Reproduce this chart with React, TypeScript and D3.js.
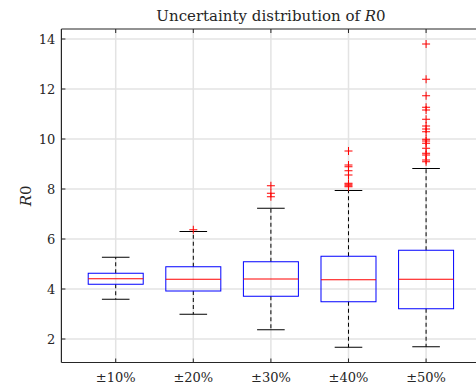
import * as d3 from 'd3'

const categories = ['±10%', '±20%', '±30%', '±40%', '±50%']
const q1 = [4.19, 3.92, 3.71, 3.49, 3.21]
const median = [4.41, 4.39, 4.4, 4.37, 4.39]
const q3 = [4.63, 4.89, 5.09, 5.31, 5.55]
const whiskerLow = [3.59, 2.99, 2.37, 1.67, 1.69]
const whiskerHigh = [5.27, 6.3, 7.23, 7.94, 8.82]
const outliers: number[][] = [
  [],
  [6.37],
  [8.13, 7.83, 7.69],
  [9.52, 8.96, 8.89, 8.73, 8.56, 8.23, 8.19, 8.13, 8.09],
  [
    13.8, 12.39, 11.73, 11.27, 11.16, 10.79, 10.52, 10.4, 10.29, 9.99, 9.92,
    9.83, 9.63, 9.43, 9.36, 9.16, 9.09,
  ],
]
const yTicks = [2, 4, 6, 8, 10, 12, 14]

const width = 476
const height = 389
const font = "'DejaVu Serif', serif"

export default function App() {
  const x = d3.scaleLinear([0.3, 5.7], [61.4, 480.4])
  const y = d3.scaleLinear([1.06, 14.4], [362.5, 29])
  const boxHalf = 27.5
  const capHalf = 13.8
  const left = x(0.3)
  const right = x(5.7)
  const top = y(14.4)
  const bottom = y(1.06)
  const axisColor = '#262626'
  const tickStyle = { fontFamily: font, fontSize: '13px' }
  const titleStyle = { fontFamily: font, fontSize: '15px' }

  return (
    <svg
      width={width}
      height={height}
      style={{ position: 'absolute', left: 0, top: 0, background: 'white' }}
    >
      <rect x={0} y={0} width={width} height={height} fill="white" />
      {/* grid */}
      {yTicks.map((t) => (
        <line
          key={'gy' + t}
          x1={left}
          x2={right}
          y1={y(t)}
          y2={y(t)}
          stroke="#e3e3e3"
          strokeWidth={1.5}
        />
      ))}
      {categories.map((_, i) => (
        <line
          key={'gx' + i}
          x1={x(i + 1)}
          x2={x(i + 1)}
          y1={top}
          y2={bottom}
          stroke="#e3e3e3"
          strokeWidth={1.5}
        />
      ))}
      {/* boxes */}
      {categories.map((_, i) => {
        const cx = x(i + 1)
        return (
          <g key={'b' + i}>
            <line
              x1={cx}
              x2={cx}
              y1={y(q3[i])}
              y2={y(whiskerHigh[i])}
              stroke="black"
              strokeWidth={1}
              strokeDasharray="4,3"
            />
            <line
              x1={cx}
              x2={cx}
              y1={y(q1[i])}
              y2={y(whiskerLow[i])}
              stroke="black"
              strokeWidth={1}
              strokeDasharray="4,3"
            />
            <line
              x1={cx - capHalf}
              x2={cx + capHalf}
              y1={y(whiskerHigh[i])}
              y2={y(whiskerHigh[i])}
              stroke="black"
              strokeWidth={1}
            />
            <line
              x1={cx - capHalf}
              x2={cx + capHalf}
              y1={y(whiskerLow[i])}
              y2={y(whiskerLow[i])}
              stroke="black"
              strokeWidth={1}
            />
            <rect
              x={cx - boxHalf}
              y={y(q3[i])}
              width={boxHalf * 2}
              height={y(q1[i]) - y(q3[i])}
              fill="none"
              stroke="#0000ff"
              strokeWidth={1}
            />
            <line
              x1={cx - boxHalf}
              x2={cx + boxHalf}
              y1={y(median[i])}
              y2={y(median[i])}
              stroke="#ff0000"
              strokeWidth={1}
            />
            {outliers[i].map((o, j) => (
              <path
                key={j}
                d={`M${cx - 4},${y(o)}H${cx + 4}M${cx},${y(o) - 4}V${y(o) + 4}`}
                stroke="#ff0000"
                strokeWidth={1}
                fill="none"
              />
            ))}
          </g>
        )
      })}
      {/* axes */}
      <line x1={left} x2={left} y1={top} y2={bottom} stroke={axisColor} strokeWidth={1.2} />
      <line x1={left} x2={right} y1={bottom} y2={bottom} stroke={axisColor} strokeWidth={1.2} />
      <line x1={left} x2={right} y1={top} y2={top} stroke={axisColor} strokeWidth={1.2} />
      {yTicks.map((t) => (
        <g key={'ty' + t}>
          <line x1={left} x2={left + 4} y1={y(t)} y2={y(t)} stroke={axisColor} strokeWidth={1} />
          <text
            x={left - 6}
            y={y(t)}
            textAnchor="end"
            dominantBaseline="central"
            style={tickStyle}
            fill={axisColor}
          >
            {t}
          </text>
        </g>
      ))}
      {categories.map((c, i) => (
        <g key={'tx' + i}>
          <line
            x1={x(i + 1)}
            x2={x(i + 1)}
            y1={top}
            y2={top + 4}
            stroke={axisColor}
            strokeWidth={1}
          />
          <line
            x1={x(i + 1)}
            x2={x(i + 1)}
            y1={bottom}
            y2={bottom - 4}
            stroke={axisColor}
            strokeWidth={1}
          />
          <text
            x={x(i + 1)}
            y={bottom + 14.5}
            textAnchor="middle"
            dominantBaseline="central"
            style={tickStyle}
            fill={axisColor}
          >
            {c}
          </text>
        </g>
      ))}
      <text x={271} y={21} textAnchor="middle" style={titleStyle} fill={axisColor}>
        Uncertainty distribution of <tspan fontStyle="italic">R</tspan>0
      </text>
      <text
        transform={`translate(31,${(top + bottom) / 2}) rotate(-90)`}
        textAnchor="middle"
        style={titleStyle}
        fill={axisColor}
      >
        <tspan fontStyle="italic">R</tspan>0
      </text>
    </svg>
  )
}
